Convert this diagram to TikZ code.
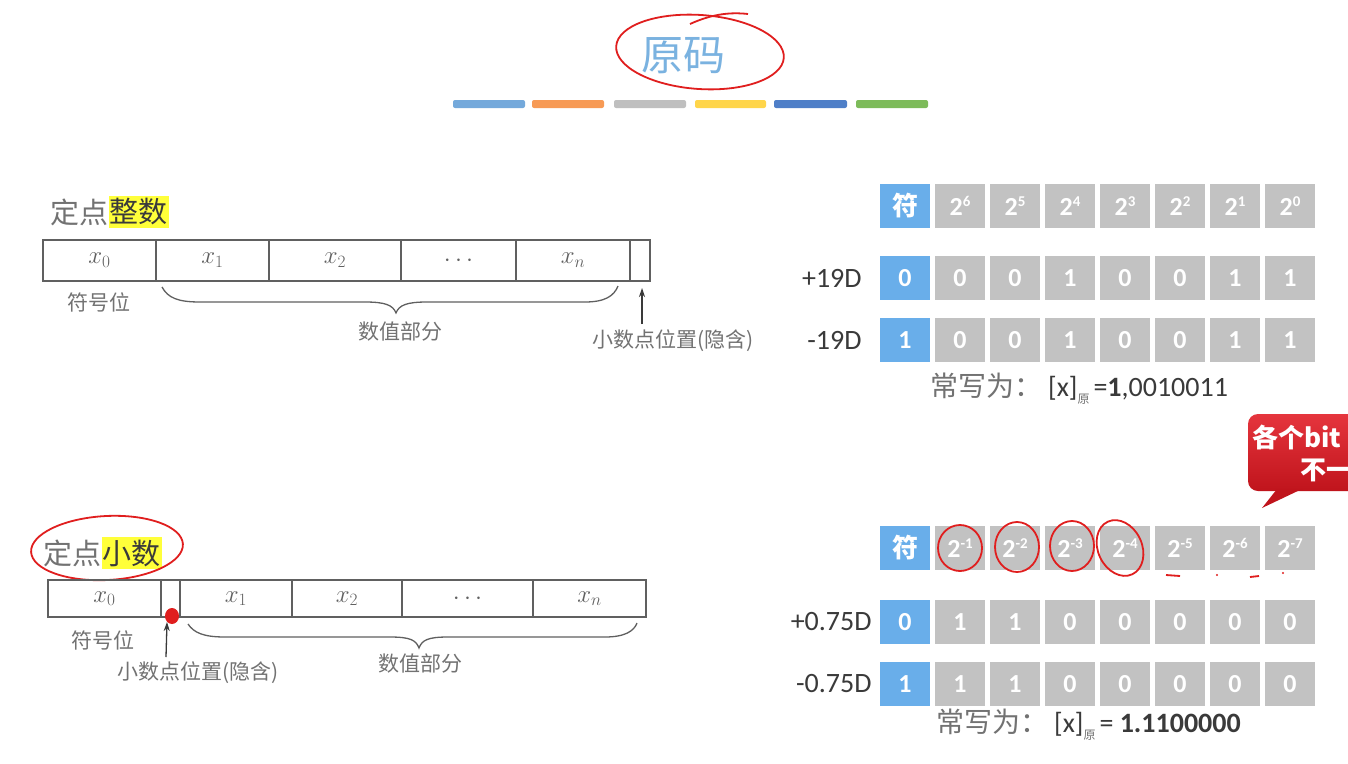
\documentclass[tikz,border=0pt]{standalone}
\usepackage{fontspec}
\setmainfont{Carlito}
\newfontfamily\cjk{Noto Sans CJK SC}
\usetikzlibrary{calc,arrows.meta}
\definecolor{cellgray}{HTML}{C2C2C2}
\definecolor{cellblue}{HTML}{69AEEA}
\definecolor{titleblue}{HTML}{7AB2E0}
\definecolor{penred}{HTML}{E01E1E}
\definecolor{txtgray}{HTML}{727272}
\definecolor{dgray}{HTML}{3A3A3A}
\definecolor{boxgray}{HTML}{606060}
\definecolor{hl}{HTML}{FFFF3A}
\definecolor{bar1}{HTML}{74A9DB}
\definecolor{bar2}{HTML}{F79A55}
\definecolor{bar3}{HTML}{BFBFBF}
\definecolor{bar4}{HTML}{FFD54A}
\definecolor{bar5}{HTML}{4F7FC8}
\definecolor{bar6}{HTML}{7DBB5A}
\definecolor{calltop}{HTML}{E5353D}
\definecolor{callbot}{HTML}{C0141C}
\newcommand\mypow[1]{2\raisebox{9pt}{\fontsize{15}{15}\selectfont #1}}
\tikzset{
 cellg/.style={fill=cellgray, minimum width=50pt, minimum height=44pt, inner sep=0pt, text=white, font=\fontsize{26}{30}\selectfont\bfseries},
 cellb/.style={cellg, fill=cellblue},
 hdrb/.style={cellb, font=\cjk\fontsize{26}{30}\selectfont\bfseries},
 rowlab/.style={anchor=east, inner sep=0pt, text=dgray, font=\fontsize{28}{30}\selectfont},
 note/.style={inner sep=0pt, anchor=west, text=dgray, font=\fontsize{28}{30}\selectfont},
 bitbox/.style={draw=boxgray, line width=1.4pt, inner sep=0pt, text=boxgray, font=\fontsize{26}{28}\selectfont},
 lbl/.style={inner sep=0pt, text=txtgray, font=\cjk\fontsize{21}{24}\selectfont},
 ttl/.style={inner sep=0pt, anchor=west, text=txtgray, font=\cjk\fontsize{29}{32}\selectfont},
 brc/.style={draw=boxgray, line width=1.3pt},
 arr/.style={draw=dgray, line width=1.3pt, -{Stealth[length=9pt,width=6pt]}},
 redpen/.style={draw=penred, line width=1.8pt},
 bar/.style={rounded corners=2pt},
}
\begin{document}
\begin{tikzpicture}[x=1pt,y=-1pt]
\useasboundingbox (0,0) rectangle (1348,763);
\fill[white] (0,0) rectangle (1348,763);

% title
\node[inner sep=0pt, text=titleblue, font=\cjk\fontsize{42}{46}\selectfont] (title) at (683,56) {原码};
\draw[redpen] (700,52) ellipse[x radius=84, y radius=37, rotate=-4];
\draw[redpen] (690,24) .. controls (712,14) and (730,12) .. (748,14);

% colour bars
\fill[bar, bar1] (453,100) rectangle (525,108);
\fill[bar, bar2] (532,100) rectangle (604,108);
\fill[bar, bar3] (614,100) rectangle (686,108);
\fill[bar, bar4] (695,100) rectangle (766,108);
\fill[bar, bar5] (774,100) rectangle (847,108);
\fill[bar, bar6] (856,100) rectangle (928,108);

% ---------- top left: fixed-point integer ----------
\node[ttl] (ta) at (50,212) {定点};
\node[ttl, anchor=west, fill=hl, text=dgray, inner xsep=1pt, inner ysep=3pt] (tb) at (ta.east) {整数};

\node[bitbox, minimum width=113pt, minimum height=41pt] (a0) at (99.5,260.5) {$x_0$};
\node[bitbox, minimum width=113pt, minimum height=41pt] (a1) at (212.5,260.5) {$x_1$};
\node[bitbox, minimum width=132pt, minimum height=41pt] (a2) at (335,260.5) {$x_2$};
\node[bitbox, minimum width=115pt, minimum height=41pt] (a3) at (458.5,260.5) {$\cdots$};
\node[bitbox, minimum width=114pt, minimum height=41pt] (a4) at (573,260.5) {$x_n$};
\node[bitbox, minimum width=20pt, minimum height=41pt] (a5) at (640,260.5) {};

\node[lbl] (asg) at (99,302) {符号位};
\draw[brc] (162,287) .. controls (168,298) and (178,302) .. (200,302) -- (365,302)
  .. controls (385,302) and (393,305) .. (396,313) .. controls (399,305) and (407,302) .. (427,302)
  -- (585,302) .. controls (605,302) and (614,296) .. (618,286);
\node[lbl] (aval) at (400,332) {数值部分};
\node[lbl] (apt) at (673,341) {小数点位置(隐含)};
\coordinate (apa) at (642,324);
\coordinate (apb) at (642,288);
\draw[arr] (apa) -- (apb);

% ---------- top right table ----------
\node[hdrb] (ah0) at (905,206) {符};
\foreach \e [count=\k] in {6,5,4,3,2,1,0}
  \node[cellg] (ah\k) at (905+55*\k,206) {\mypow{\e}};
\node[cellb] (ar0) at (905,278) {0};
\foreach \b [count=\k] in {0,0,1,0,0,1,1}
  \node[cellg] (ar\k) at (905+55*\k,278) {\b};
\node[cellb] (as0) at (905,340) {1};
\foreach \b [count=\k] in {0,0,1,0,0,1,1}
  \node[cellg] (as\k) at (905+55*\k,340) {\b};
\node[rowlab] (arl) at ($(ar0.west)+(-18,0)$) {+19D};
\node[rowlab] (asl) at ($(as0.west)+(-18,0)$) {-19D};
\node[note] (aw) at (930,389) {{\cjk\color{txtgray}常写为：}\hspace{6pt}[x]\raisebox{-7pt}{\cjk\fontsize{12}{12}\selectfont\color{txtgray}原}\hspace{4pt}=\textbf{1},0010011};

% callout
\shade[top color=calltop, bottom color=callbot, rounded corners=10pt] (1248,414) rectangle (1390,491);
\fill[callbot] (1277,489) -- (1262,508) -- (1302,489) -- cycle;
\node[inner sep=0pt, anchor=west, text=white, font=\cjk\fontsize{26}{28}\selectfont\bfseries] (c1) at (1252,437) {各个bit};
\node[inner sep=0pt, anchor=west, text=white, font=\cjk\fontsize{26}{28}\selectfont\bfseries] (c2) at (1300,470) {不一};

% ---------- bottom left: fixed-point fraction ----------
\node[ttl] (tc) at (43,553) {定点};
\node[ttl, anchor=west, fill=hl, text=dgray, inner xsep=1pt, inner ysep=3pt] (td) at (tc.east) {小数};
\draw[redpen] (107,548) ellipse[x radius=76, y radius=32, rotate=3];

\node[bitbox, minimum width=113pt, minimum height=37pt] (b0) at (104.5,598.5) {$x_0$};
\node[bitbox, minimum width=19pt, minimum height=37pt] (b1) at (170.5,598.5) {};
\node[bitbox, minimum width=112pt, minimum height=37pt] (b2) at (236,598.5) {$x_1$};
\node[bitbox, minimum width=110pt, minimum height=37pt] (b3) at (347,598.5) {$x_2$};
\node[bitbox, minimum width=131pt, minimum height=37pt] (b4) at (467.5,598.5) {$\cdots$};
\node[bitbox, minimum width=113pt, minimum height=37pt] (b5) at (589.5,598.5) {$x_n$};

\fill[penred] (172,616) ellipse[x radius=7, y radius=8];
\node[lbl] (bsg) at (103,640) {符号位};
\draw[brc] (188,624) .. controls (194,633) and (204,637) .. (225,637) -- (390,637)
  .. controls (410,637) and (416,640) .. (419,648) .. controls (422,640) and (428,637) .. (448,637)
  -- (605,637) .. controls (625,637) and (634,631) .. (637,623);
\node[lbl] (bval) at (420,663) {数值部分};
\node[lbl] (bpt) at (198,673) {小数点位置(隐含)};
\coordinate (bpa) at (166,657);
\coordinate (bpb) at (167,622);
\draw[arr] (bpa) -- (bpb);

% ---------- bottom right table ----------
\node[hdrb] (bh0) at (905,548) {符};
\foreach \e [count=\k] in {-1,-2,-3,-4,-5,-6,-7}
  \node[cellg] (bh\k) at (905+55*\k,548) {\mypow{\e}};
\node[cellb] (br0) at (905,622) {0};
\foreach \b [count=\k] in {1,1,0,0,0,0,0}
  \node[cellg] (br\k) at (905+55*\k,622) {\b};
\node[cellb] (bs0) at (905,684) {1};
\foreach \b [count=\k] in {1,1,0,0,0,0,0}
  \node[cellg] (bs\k) at (905+55*\k,684) {\b};
\node[rowlab] (brl) at ($(br0.west)+(-8,0)$) {+0.75D};
\node[rowlab] (bsl) at ($(bs0.west)+(-8,0)$) {-0.75D};
\node[note] (bw) at (936,725) {{\cjk\color{txtgray}常写为：}\hspace{6pt}[x]\raisebox{-7pt}{\cjk\fontsize{12}{12}\selectfont\color{txtgray}原}\hspace{4pt}= \textbf{1.1100000}};

% hand-drawn circles
\draw[redpen] (bh1) ellipse[x radius=22, y radius=23];
\draw[redpen] ($(bh2)+(2,-1)$) ellipse[x radius=22, y radius=25];
\draw[redpen] ($(bh3)+(2,-2)$) ellipse[x radius=22, y radius=25];
\draw[redpen] ($(bh4)+(-5,0)$) ellipse[x radius=22, y radius=29, rotate=25];
\draw[redpen] (1166,575) -- (1180,576);
\fill[penred] (1217,575) circle[radius=1.2];
\draw[redpen] (1250,577) -- (1259,576);
\fill[penred] (1283,573) circle[radius=1.2];
\end{tikzpicture}
\end{document}
